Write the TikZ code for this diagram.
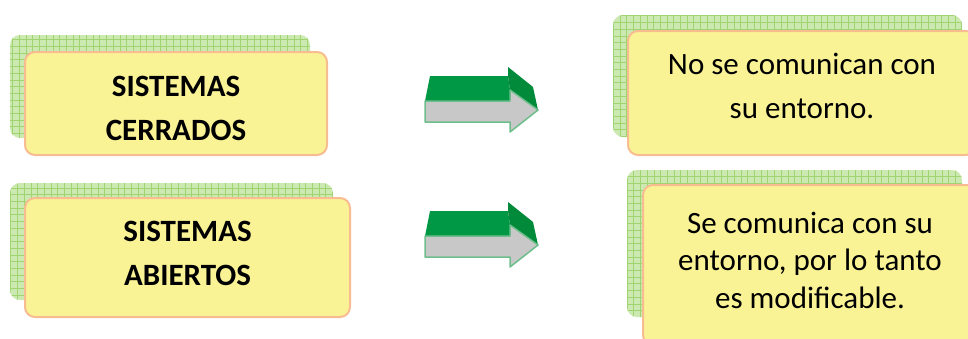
\documentclass[tikz,border=0pt]{standalone}
\usepackage{fontspec}
\setmainfont{Carlito}
\usetikzlibrary{positioning}
\definecolor{boxyellow}{RGB}{250,243,150}
\definecolor{boxedge}{RGB}{248,188,145}
\definecolor{backgreen}{RGB}{205,233,178}
\definecolor{gridgreen}{RGB}{160,212,112}
\definecolor{arrowgreen}{RGB}{0,152,68}
\definecolor{arrowdark}{RGB}{0,138,58}
\definecolor{arrowgray}{RGB}{200,200,200}
\definecolor{arrowedge}{RGB}{110,190,140}
\tikzset{
    backbox/.style={rectangle, rounded corners=10pt, fill=backgreen,
        path picture={\draw[gridgreen, line width=0.6pt] (path picture bounding box.south west) grid[step=6.7pt] (path picture bounding box.north east);}},
    frontbox/.style={draw=boxedge, line width=2pt, rounded corners=10pt, fill=boxyellow},
    boxtext/.style={align=center, font=\fontsize{31}{44}\selectfont},
    titletext/.style={boxtext, font=\fontsize{31}{44}\selectfont\bfseries},
    pics/blockarrow/.style={code={
        \fill[arrowgreen] (0,0) -- (5,-25) -- (83,-25) -- (85,-11) -- (85,0) -- cycle;
        \fill[arrowdark] (83,-25) -- (83,-34) -- (108,-14) -- (113,9) -- (85,-11) -- cycle;
        \draw[fill=arrowgray, draw=arrowedge, line width=1.5pt, line join=round] (0,0) -- (85,0) -- (85,-11) -- (113,9) -- (85,31) -- (85,21) -- (0,21) -- cycle;
    }},
}
\begin{document}
\begin{tikzpicture}[x=1pt, y=-1pt]
    \clip (0,0) rectangle (968,338);
    \fill[white] (0,0) rectangle (968,338);

    % closed systems
    \node[backbox, minimum width=300pt, minimum height=103pt] (closedback) at (160,86.5) {};
    \node[frontbox, minimum width=302pt, minimum height=103pt] (closed) at (176,103.5) {};
    \node[titletext] (closedtext) at ([yshift=-5pt]closed.center) {SISTEMAS\\CERRADOS};

    % open systems
    \node[backbox, minimum width=323pt, minimum height=117pt] (openback) at (171.5,241.5) {};
    \node[frontbox, minimum width=325pt, minimum height=119pt] (open) at (187.5,257.5) {};
    \node[titletext] (opentext) at ([yshift=4pt]open.center) {SISTEMAS\\ABIERTOS};

    % descriptions
    \node[backbox, minimum width=349pt, minimum height=122pt] (closeddescback) at (787.5,76) {};
    \node[frontbox, minimum width=348pt, minimum height=124pt] (closeddesc) at (802,93) {};
    \node[boxtext] (closeddesctext) at ([yshift=7pt]closeddesc.center) {No se comunican con\\su entorno.};

    \node[backbox, minimum width=335pt, minimum height=147pt] (opendescback) at (794.5,243.5) {};
    \node[frontbox, minimum width=334pt, minimum height=160pt] (opendesc) at (810,265) {};
    \node[boxtext, font=\fontsize{31}{37.5}\selectfont] (opendesctext) at ([yshift=5pt]opendesc.center) {Se comunica con su\\entorno, por lo tanto\\es modificable.};

    % block arrows
    \pic at (425,101) {blockarrow};
    \pic at (425,236) {blockarrow};
\end{tikzpicture}
\end{document}
